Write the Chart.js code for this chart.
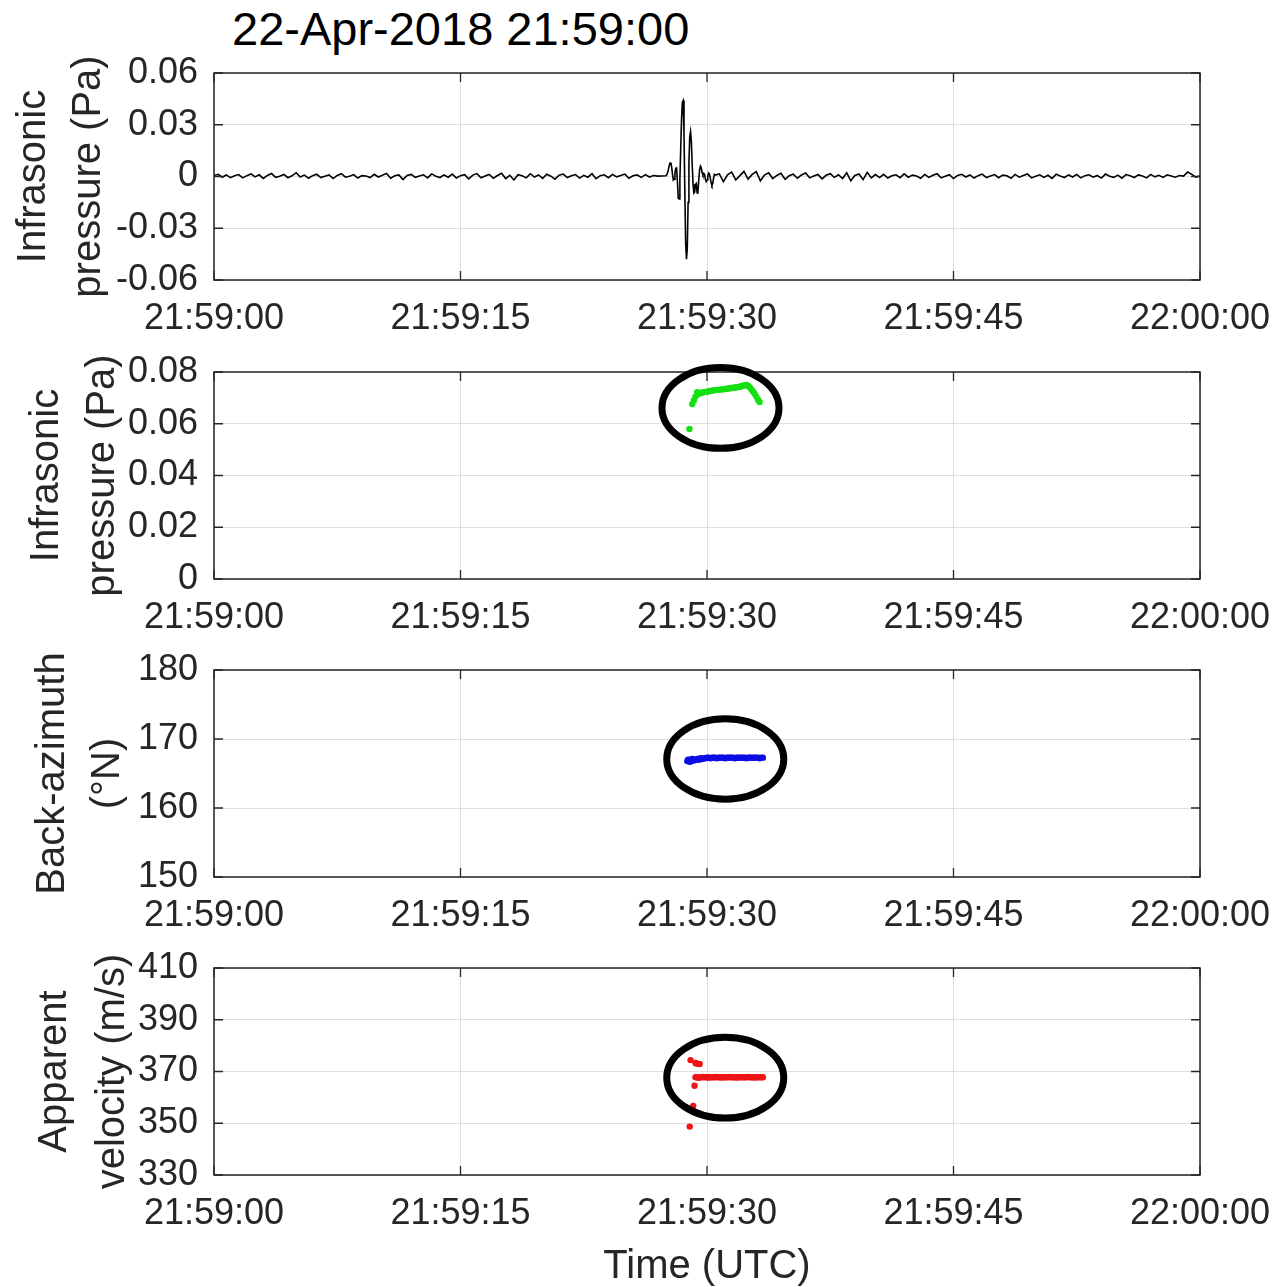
<!DOCTYPE html>
<html>
<head>
<meta charset="utf-8">
<script src="https://cdn.jsdelivr.net/npm/chart.js@4.4.1/dist/chart.umd.min.js"></script>
<style>
  html, body { margin: 0; background: #fff; }
  body { position: relative; width: 1276px; height: 1287px; overflow: hidden; font-family: "Liberation Sans", Arial, sans-serif; }
  #stamp { position: absolute; left: 232px; top: 5px; font-size: 47px; line-height: 1; color: #000; white-space: nowrap; }
  canvas { position: absolute; left: 0; }
</style>
</head>
<body>
<div id="stamp">22-Apr-2018 21:59:00</div>
<canvas id="wave" width="1276" height="297" style="top:43px"></canvas>
<canvas id="amp" width="1276" height="297" style="top:342px"></canvas>
<canvas id="baz" width="1276" height="297" style="top:640px"></canvas>
<canvas id="vel" width="1276" height="349" style="top:938px"></canvas>
<script>
// time axis in seconds after 21:59:00
const timeTicks = [0, 15, 30, 45, 60];
const timeTickLabels = ['21:59:00', '21:59:15', '21:59:30', '21:59:45', '22:00:00'];

// infrasound trace (Pa): quiet part, arrival, quiet part
const quietStart = 0, quietStep = 0.25;
const quietBefore = [
  0.0006, 0.0013, -0.0004, 0.0009, -0.0007, 0.0004, 0.0011, -0.0008, 0.0005, 0.0015,
  -0.0002, 0.0010, -0.0011, 0.0006, 0.0017, -0.0005, 0.0002, 0.0012, -0.0007, 0.0004,
  0.0022, -0.0003, 0.0008, -0.0010, 0.0005, 0.0013, -0.0006, 0.0002, 0.0009, -0.0012,
  0.0006, 0.0016, -0.0004, 0.0001, 0.0011, -0.0009, 0.0005, 0.0003, -0.0006, 0.0013,
  -0.0003, 0.0007, 0.0018, -0.0010, 0.0004, 0.0009, -0.0018, 0.0006, 0.0012, -0.0005,
  0.0003, 0.0010, -0.0008, 0.0015, 0.0002, -0.0006, 0.0009, -0.0004, 0.0014, -0.0009,
  0.0005, 0.0011, -0.0014, 0.0008, 0.0017, -0.0007, 0.0003, 0.0012, -0.0010, 0.0006,
  0.0019, -0.0012, 0.0007, -0.0020, 0.0010, 0.0004, -0.0008, 0.0016, -0.0003, 0.0009,
  -0.0011, 0.0013, 0.0002, -0.0015, 0.0008, 0.0014, -0.0006, 0.0004, 0.0011, -0.0009,
  0.0007, -0.0004, 0.0016, -0.0013, 0.0005, 0.0010, -0.0007, 0.0012, -0.0002, 0.0006,
  0.0014, -0.0010, 0.0004, 0.0009, -0.0005, 0.0011, -0.0003, 0.0006, 0.0002, 0.0003
];
const arrivalStart = 27.5, arrivalStep = 0.05;
const arrival = [
  0.0004, 0.0010, 0.0022, 0.0040, 0.0062, 0.0078, 0.0080, 0.0055, 0.0012, -0.0020,
  -0.0015, 0.0020, 0.0048, 0.0050, -0.0030, -0.0125, -0.0130, -0.0020, 0.0160, 0.0330,
  0.0430, 0.0440, 0.0250, -0.0080, -0.0380, -0.0480, -0.0420, -0.0150, 0.0080, 0.0230,
  0.0260, 0.0200, 0.0070, -0.0045, -0.0095, -0.0090, -0.0045, -0.0040, -0.0095, -0.0085,
  -0.0020, 0.0040, 0.0060, 0.0050, 0.0025, 0.0010, 0.0018, 0.0012, -0.0015, -0.0030,
  -0.0020, 0.0005, 0.0020, 0.0015, -0.0010, -0.0035, -0.0050, -0.0040, -0.0010, 0.0012,
  0.0008
];
const codaStart = 30.75, codaStep = 0.25;
const quietAfter = [
  0.0015, -0.0030, 0.0010, 0.0025, -0.0020, 0.0005, 0.0030, -0.0015, 0.0012, 0.0028,
  -0.0025, 0.0008, 0.0022, -0.0012, 0.0006, 0.0018, -0.0016, 0.0004, 0.0014, -0.0010,
  0.0009, 0.0020, -0.0008, 0.0003, 0.0012, -0.0014, 0.0007, 0.0016, -0.0005, 0.0010,
  -0.0012, 0.0022, -0.0025, 0.0006, 0.0015, -0.0018, 0.0024, -0.0008, 0.0011, -0.0006,
  0.0013, -0.0009, 0.0004, 0.0010, -0.0007, 0.0015, -0.0004, 0.0008, 0.0003, -0.0010,
  0.0012, -0.0005, 0.0007, 0.0016, -0.0008, 0.0002, 0.0010, -0.0012, 0.0006, 0.0013,
  -0.0003, 0.0009, -0.0009, 0.0005, 0.0014, -0.0006, 0.0003, 0.0011, -0.0007, 0.0008,
  0.0004, -0.0010, 0.0012, -0.0004, 0.0006, 0.0015, -0.0008, 0.0002, 0.0010, -0.0005,
  0.0007, -0.0011, 0.0013, 0.0003, -0.0006, 0.0009, -0.0003, 0.0012, -0.0008, 0.0005,
  0.0010, -0.0004, 0.0006, -0.0009, 0.0014, 0.0002, -0.0005, 0.0008, -0.0010, 0.0011,
  0.0004, -0.0006, 0.0009, 0.0003, -0.0008, 0.0012, -0.0002, 0.0007, -0.0005, 0.0010,
  0.0003, -0.0004, 0.0006, 0.0002, 0.0026, 0.0012, -0.0004, 0.0004
];

// array detections: amplitude (Pa)
const ampTimes = [
  28.93, 29.1, 29.2, 29.3, 29.4, 29.5, 29.6, 29.7, 29.8, 29.9, 30.0,
  30.1, 30.2, 30.3, 30.4, 30.5, 30.6, 30.7, 30.8, 30.9, 31.0,
  31.1, 31.2, 31.3, 31.4, 31.5, 31.6, 31.7, 31.8, 31.9, 32.0,
  32.1, 32.2, 32.3, 32.4, 32.5, 32.6, 32.7, 32.8, 32.9, 33.0, 33.1, 33.2
];
const ampValues = [
  0.0580, 0.0676, 0.0690, 0.0705, 0.0722, 0.0716, 0.0719, 0.0721, 0.0722, 0.0723, 0.0724,
  0.0725, 0.0727, 0.0728, 0.0729, 0.0730, 0.0731, 0.0731, 0.0732, 0.0733, 0.0733,
  0.0734, 0.0735, 0.0736, 0.0737, 0.0738, 0.0739, 0.0740, 0.0741, 0.0742, 0.0743,
  0.0745, 0.0747, 0.0749, 0.0750, 0.0747, 0.0741, 0.0733, 0.0725, 0.0716, 0.0705, 0.0693, 0.0684
];

// back-azimuth (°N)
const bazTimes = [
  28.8, 28.85, 28.9, 28.95, 29.0, 29.05, 29.1, 29.2, 29.3, 29.4, 29.5, 29.6, 29.7, 29.8, 29.9,
  30.0, 30.1, 30.2, 30.3, 30.4, 30.5, 30.6, 30.7, 30.8, 30.9,
  31.0, 31.1, 31.2, 31.3, 31.4, 31.5, 31.6, 31.7, 31.8, 31.9,
  32.0, 32.1, 32.2, 32.3, 32.4, 32.5, 32.6, 32.7, 32.8, 32.9,
  33.0, 33.1, 33.2, 33.3, 33.4
];
const bazValues = [
  166.8, 167.0, 166.9, 166.7, 167.0, 166.8, 167.1, 166.9, 167.0, 167.1, 167.0, 167.2, 167.1, 167.2, 167.2,
  167.3, 167.3, 167.2, 167.3, 167.3, 167.3, 167.2, 167.3, 167.3, 167.3,
  167.3, 167.2, 167.3, 167.3, 167.3, 167.3, 167.3, 167.2, 167.3, 167.3,
  167.3, 167.3, 167.3, 167.3, 167.2, 167.3, 167.3, 167.3, 167.3, 167.3,
  167.3, 167.3, 167.2, 167.3, 167.3
];

// apparent velocity (m/s)
const velTimes = [
  28.95, 29.0, 29.16, 29.24, 29.3, 29.4, 29.55,
  29.3, 29.4, 29.5, 29.6, 29.7, 29.8, 29.9, 30.0, 30.1, 30.2,
  30.3, 30.4, 30.5, 30.6, 30.7, 30.8, 30.9, 31.0, 31.1, 31.2,
  31.3, 31.4, 31.5, 31.6, 31.7, 31.8, 31.9, 32.0, 32.1, 32.2,
  32.3, 32.4, 32.5, 32.6, 32.7, 32.8, 32.9, 33.0, 33.1, 33.2, 33.3, 33.4
];
const velValues = [
  348.7, 374.4, 356.7, 364.5, 373.3, 373.0, 372.9,
  367.8, 367.8, 367.6, 367.8, 367.8, 367.9, 367.8, 367.8, 367.7, 367.8,
  367.8, 367.8, 367.8, 367.9, 367.8, 367.8, 367.7, 367.8, 367.8, 367.8,
  367.8, 367.9, 367.8, 367.8, 367.8, 367.7, 367.8, 367.8, 367.8, 367.8,
  367.8, 367.8, 367.9, 367.8, 367.8, 367.8, 367.7, 367.8, 367.8, 367.8, 367.8, 367.8
];

// y ticks per panel
const pressureTicks = [-0.06, -0.03, 0, 0.03, 0.06];
const pressureTickLabels = ['-0.06', '-0.03', '0', '0.03', '0.06'];
const ampTicks = [0, 0.02, 0.04, 0.06, 0.08];
const ampTickLabels = ['0', '0.02', '0.04', '0.06', '0.08'];
const bazTicks = [150, 160, 170, 180];
const bazTickLabels = ['150', '160', '170', '180'];
const velTicks = [330, 350, 370, 390, 410];
const velTickLabels = ['330', '350', '370', '390', '410'];

Chart.defaults.font.family = '"Liberation Sans", Arial, sans-serif';
Chart.defaults.color = '#262626';

const INK = '#262626';
const GRID = '#dfdfdf';

function toPoints(times, values) {
  return values.map((v, i) => ({ x: times[i], y: v }));
}

function sampled(t0, dt, values) {
  return values.map((v, i) => ({ x: t0 + i * dt, y: v }));
}

const tracePoints = [
  ...sampled(quietStart, quietStep, quietBefore),
  ...sampled(arrivalStart, arrivalStep, arrival),
  ...sampled(codaStart, codaStep, quietAfter)
];

// keep the plot box fixed: no extra room for overhanging tick labels
function noOverhang(s) {
  s.paddingTop = 0;
  s.paddingBottom = 0;
  s.paddingLeft = 0;
  s.paddingRight = 0;
}

// box, inward tick marks and the ring drawn round the detections
function frame(ring) {
  return {
    id: 'frame',
    afterDatasetsDraw(chart) {
      const { ctx, chartArea: a, scales: { x, y } } = chart;
      ctx.save();
      ctx.strokeStyle = INK;
      ctx.lineWidth = 1.5;
      ctx.strokeRect(a.left, a.top, a.right - a.left, a.bottom - a.top);
      ctx.lineWidth = 1.3;
      ctx.beginPath();
      x.ticks.forEach(t => {
        const px = x.getPixelForValue(t.value);
        ctx.moveTo(px, a.bottom); ctx.lineTo(px, a.bottom - 9);
        ctx.moveTo(px, a.top); ctx.lineTo(px, a.top + 9);
      });
      y.ticks.forEach(t => {
        const py = y.getPixelForValue(t.value);
        ctx.moveTo(a.left, py); ctx.lineTo(a.left + 9, py);
        ctx.moveTo(a.right, py); ctx.lineTo(a.right - 9, py);
      });
      ctx.stroke();
      if (ring) {
        const cx = x.getPixelForValue(ring.t);
        const cy = y.getPixelForValue(ring.v);
        const rx = x.getPixelForValue(ring.t + ring.dt) - cx;
        const ry = cy - y.getPixelForValue(ring.v + ring.dv);
        ctx.strokeStyle = '#000';
        ctx.lineWidth = 7;
        ctx.beginPath();
        ctx.ellipse(cx, cy, rx, ry, 0, 0, Math.PI * 2);
        ctx.stroke();
      }
      ctx.restore();
    }
  };
}

function panel(id, dataset, y, xHeight, ring, withTimeTitle) {
  new Chart(document.getElementById(id), {
    type: 'scatter',
    data: { datasets: [dataset] },
    options: {
      responsive: false,
      animation: false,
      events: [],
      layout: { padding: { top: 30, right: 76, bottom: 0, left: 0 } },
      plugins: { legend: { display: false }, tooltip: { enabled: false } },
      scales: {
        x: {
          type: 'linear',
          min: 0,
          max: 60,
          afterBuildTicks: s => { s.ticks = timeTicks.map(value => ({ value })); },
          afterFit: s => { s.height = xHeight; noOverhang(s); },
          grid: { color: GRID, drawTicks: false },
          border: { display: false },
          ticks: {
            autoSkip: false,
            maxRotation: 0,
            padding: 17,
            color: INK,
            font: { size: 36 },
            callback: (v, i) => timeTickLabels[i]
          },
          title: {
            display: withTimeTitle,
            text: 'Time (UTC)',
            color: INK,
            font: { size: 40, lineHeight: 1 },
            padding: 0
          }
        },
        y: {
          min: y.ticks[0],
          max: y.ticks[y.ticks.length - 1],
          afterBuildTicks: s => { s.ticks = y.ticks.map(value => ({ value })); },
          afterFit: s => { s.width = 214; noOverhang(s); },
          grid: { color: GRID, drawTicks: false },
          border: { display: false },
          ticks: {
            autoSkip: false,
            padding: 16,
            color: INK,
            font: { size: 36 },
            callback: (v, i) => y.labels[i]
          },
          title: {
            display: true,
            text: y.title,
            color: INK,
            font: { size: 40, lineHeight: y.lineGap + 'px' },
            padding: { top: y.offset, bottom: 0 }
          }
        }
      }
    },
    plugins: [frame(ring)]
  });
}

panel('wave', {
  data: tracePoints,
  showLine: true,
  borderColor: '#000',
  borderWidth: 1.6,
  pointRadius: 0,
  tension: 0
}, {
  ticks: pressureTicks, labels: pressureTickLabels,
  title: ['Infrasonic', 'pressure (Pa)'], lineGap: 55, offset: 6.5
}, 60, null, false);

panel('amp', {
  data: toPoints(ampTimes, ampValues),
  backgroundColor: '#14e014',
  pointRadius: 3.2,
  pointBorderWidth: 0
}, {
  ticks: ampTicks, labels: ampTickLabels,
  title: ['Infrasonic', 'pressure (Pa)'], lineGap: 56, offset: 19
}, 60, { t: 30.82, v: 0.0661, dt: 3.56, dv: 0.0156 }, false);

panel('baz', {
  data: toPoints(bazTimes, bazValues),
  backgroundColor: '#0c0ce4',
  pointRadius: 3.2,
  pointBorderWidth: 0
}, {
  ticks: bazTicks, labels: bazTickLabels,
  title: ['Back-azimuth', '(°N)'], lineGap: 55, offset: 25.5
}, 60, { t: 31.11, v: 167.1, dt: 3.56, dv: 5.83 }, false);

panel('vel', {
  data: toPoints(velTimes, velValues),
  backgroundColor: '#f01414',
  pointRadius: 3.2,
  pointBorderWidth: 0
}, {
  ticks: velTicks, labels: velTickLabels,
  title: ['Apparent', 'velocity (m/s)'], lineGap: 58, offset: 26
}, 112, { t: 31.11, v: 367.6, dt: 3.56, dv: 15.6 }, true);
</script>
</body>
</html>
